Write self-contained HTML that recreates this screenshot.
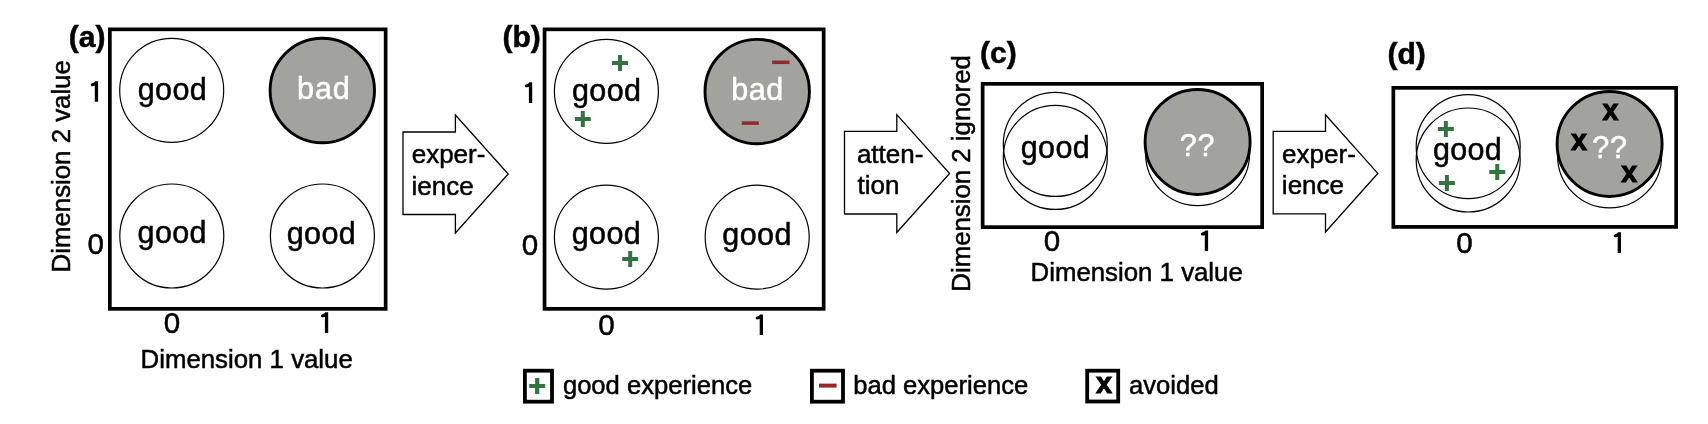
<!DOCTYPE html>
<html><head><meta charset="utf-8"><style>
html,body{margin:0;padding:0;background:#fff;width:1708px;height:424px;overflow:hidden}
svg{display:block;font-family:"Liberation Sans",sans-serif;will-change:transform}
text{stroke-width:0.5px}
</style></head><body>
<svg width="1708" height="424" viewBox="0 0 1708 424">
<rect width="1708" height="424" fill="#fff"/>
<text x="68.71" y="46.60" font-size="30.00" font-weight="bold" fill="#000" stroke="#000">(a)</text>
<rect x="109.85" y="29.35" width="275.80" height="279.50" fill="none" stroke="#000" stroke-width="3.70"/>
<circle cx="171.70" cy="90.40" r="52.00" fill="#fff" stroke="#000" stroke-width="1.20"/>
<circle cx="322.30" cy="90.50" r="52.20" fill="#a3a39e" stroke="#000" stroke-width="2.90"/>
<circle cx="171.80" cy="236.00" r="52.00" fill="#fff" stroke="#000" stroke-width="1.20"/>
<circle cx="322.40" cy="236.00" r="52.00" fill="#fff" stroke="#000" stroke-width="1.20"/>
<text x="137.72" y="100.00" font-size="30.50" fill="#000" stroke="#000" letter-spacing="0.40">good</text>
<text x="297.03" y="99.20" font-size="30.50" fill="#fff" stroke="#fff" letter-spacing="0.90">bad</text>
<text x="137.52" y="243.20" font-size="30.50" fill="#000" stroke="#000" letter-spacing="0.40">good</text>
<text x="286.72" y="244.30" font-size="30.50" fill="#000" stroke="#000" letter-spacing="0.40">good</text>
<path d="M98.10 81.20 L98.10 101.80 L94.80 101.80 L94.80 85.60 C94.00 86.00 93.20 86.20 92.30 86.20 C91.30 86.20 90.80 85.50 90.80 84.70 C90.80 84.00 91.30 83.50 92.10 83.30 C93.50 82.90 94.70 82.20 95.20 81.20 Z" fill="#000"/>
<text x="87.44" y="254.11" font-size="29.60" fill="#000" stroke="#000">0</text>
<text x="163.84" y="332.81" font-size="29.60" fill="#000" stroke="#000">0</text>
<path d="M328.20 312.30 L328.20 332.90 L324.90 332.90 L324.90 316.70 C324.10 317.10 323.30 317.30 322.40 317.30 C321.40 317.30 320.90 316.60 320.90 315.80 C320.90 315.10 321.40 314.60 322.20 314.40 C323.60 314.00 324.80 313.30 325.30 312.30 Z" fill="#000"/>
<text x="140.58" y="367.70" font-size="25.80" fill="#000" stroke="#000">Dimension 1 value</text>
<text transform="translate(70.30 270.30) rotate(-90)" x="-2.12" y="0" font-size="25.80" fill="#000" stroke="#000">Dimension 2 value</text>
<path d="M403.00 132.00H455.40V115.00L508.20 174.00L455.40 233.00V214.50H403.00Z" fill="#fff" stroke="#000" stroke-width="1.3" stroke-linejoin="miter"/>
<text x="411.70" y="162.90" font-size="26.00" fill="#000" stroke="#000">exper-</text>
<text x="411.56" y="195.00" font-size="26.00" fill="#000" stroke="#000">ience</text>
<text x="502.51" y="46.50" font-size="30.00" font-weight="bold" fill="#000" stroke="#000">(b)</text>
<rect x="544.55" y="29.35" width="279.10" height="279.50" fill="none" stroke="#000" stroke-width="3.70"/>
<circle cx="606.40" cy="91.40" r="52.00" fill="#fff" stroke="#000" stroke-width="1.20"/>
<circle cx="757.20" cy="91.55" r="52.20" fill="#a3a39e" stroke="#000" stroke-width="2.90"/>
<circle cx="606.40" cy="237.15" r="52.00" fill="#fff" stroke="#000" stroke-width="1.20"/>
<circle cx="757.20" cy="237.15" r="52.00" fill="#fff" stroke="#000" stroke-width="1.20"/>
<text x="571.92" y="100.60" font-size="30.50" fill="#000" stroke="#000" letter-spacing="0.40">good</text>
<path d="M612.00 61.00h16.00v4.00h-16.00z M618.00 55.00h4.00v16.00h-4.00z" fill="#33733f"/>
<path d="M574.80 117.00h16.00v4.00h-16.00z M580.80 111.00h4.00v16.00h-4.00z" fill="#33733f"/>
<path d="M622.20 257.00h16.00v4.00h-16.00z M628.20 251.00h4.00v16.00h-4.00z" fill="#33733f"/>
<text x="731.23" y="100.00" font-size="30.50" fill="#fff" stroke="#fff" letter-spacing="0.60">bad</text>
<rect x="772.10" y="60.55" width="17.40" height="3.50" fill="#932a2a"/>
<rect x="741.80" y="121.35" width="17.00" height="3.50" fill="#932a2a"/>
<text x="571.72" y="243.80" font-size="30.50" fill="#000" stroke="#000" letter-spacing="0.40">good</text>
<text x="722.32" y="245.20" font-size="30.50" fill="#000" stroke="#000" letter-spacing="0.40">good</text>
<path d="M532.20 82.30 L532.20 102.90 L528.90 102.90 L528.90 86.70 C528.10 87.10 527.30 87.30 526.40 87.30 C525.40 87.30 524.90 86.60 524.90 85.80 C524.90 85.10 525.40 84.60 526.20 84.40 C527.60 84.00 528.80 83.30 529.30 82.30 Z" fill="#000"/>
<text x="521.84" y="254.81" font-size="29.60" fill="#000" stroke="#000">0</text>
<text x="598.14" y="335.11" font-size="29.60" fill="#000" stroke="#000">0</text>
<path d="M763.00 314.40 L763.00 335.00 L759.70 335.00 L759.70 318.80 C758.90 319.20 758.10 319.40 757.20 319.40 C756.20 319.40 755.70 318.70 755.70 317.90 C755.70 317.20 756.20 316.70 757.00 316.50 C758.40 316.10 759.60 315.40 760.10 314.40 Z" fill="#000"/>
<path d="M844.50 131.30H896.80V114.60L949.60 173.55L896.80 232.50V214.00H844.50Z" fill="#fff" stroke="#000" stroke-width="1.3" stroke-linejoin="miter"/>
<text x="856.90" y="163.00" font-size="26.00" fill="#000" stroke="#000">atten-</text>
<text x="857.61" y="194.20" font-size="26.00" fill="#000" stroke="#000">tion</text>
<text x="980.01" y="62.50" font-size="30.00" font-weight="bold" fill="#000" stroke="#000">(c)</text>
<rect x="982.65" y="83.85" width="279.50" height="143.30" fill="none" stroke="#000" stroke-width="3.70"/>
<circle cx="1055.30" cy="157.45" r="52.00" fill="#fff" stroke="#000" stroke-width="1.20"/>
<circle cx="1055.30" cy="144.45" r="52.00" fill="none" stroke="#000" stroke-width="1.20"/>
<circle cx="1197.60" cy="153.60" r="52.00" fill="#fff" stroke="#000" stroke-width="1.20"/>
<circle cx="1197.60" cy="141.95" r="52.50" fill="#a3a39e" stroke="#000" stroke-width="2.90"/>
<text x="1020.72" y="158.00" font-size="30.50" fill="#000" stroke="#000" letter-spacing="0.40">good</text>
<text x="1179.75" y="156.00" font-size="30.50" fill="#fff" stroke="#fff" letter-spacing="0.80">??</text>
<text x="1043.84" y="250.81" font-size="29.60" fill="#000" stroke="#000">0</text>
<path d="M1208.10 230.50 L1208.10 251.10 L1204.80 251.10 L1204.80 234.90 C1204.00 235.30 1203.20 235.50 1202.30 235.50 C1201.30 235.50 1200.80 234.80 1200.80 234.00 C1200.80 233.30 1201.30 232.80 1202.10 232.60 C1203.50 232.20 1204.70 231.50 1205.20 230.50 Z" fill="#000"/>
<text x="1030.58" y="280.90" font-size="25.80" fill="#000" stroke="#000">Dimension 1 value</text>
<text transform="translate(970.20 289.60) rotate(-90)" x="-2.12" y="0" font-size="25.80" fill="#000" stroke="#000">Dimension 2 ignored</text>
<path d="M1273.20 131.30H1325.50V114.80L1377.80 173.40L1325.50 232.00V213.80H1273.20Z" fill="#fff" stroke="#000" stroke-width="1.3" stroke-linejoin="miter"/>
<text x="1282.10" y="162.90" font-size="26.00" fill="#000" stroke="#000">exper-</text>
<text x="1281.86" y="194.40" font-size="26.00" fill="#000" stroke="#000">ience</text>
<text x="1387.51" y="63.50" font-size="30.00" font-weight="bold" fill="#000" stroke="#000">(d)</text>
<rect x="1393.35" y="87.85" width="282.80" height="139.05" fill="none" stroke="#000" stroke-width="3.70"/>
<circle cx="1468.20" cy="160.00" r="52.00" fill="#fff" stroke="#000" stroke-width="1.20"/>
<circle cx="1468.20" cy="146.55" r="52.00" fill="none" stroke="#000" stroke-width="1.20"/>
<circle cx="1609.60" cy="155.90" r="52.00" fill="#fff" stroke="#000" stroke-width="1.20"/>
<circle cx="1609.60" cy="143.95" r="52.50" fill="#a3a39e" stroke="#000" stroke-width="2.90"/>
<path d="M1437.85 127.00h16.00v4.00h-16.00z M1443.85 121.00h4.00v16.00h-4.00z" fill="#33733f"/>
<path d="M1438.90 181.00h16.00v4.00h-16.00z M1444.90 175.00h4.00v16.00h-4.00z" fill="#33733f"/>
<path d="M1489.25 170.00h16.00v4.00h-16.00z M1495.25 164.00h4.00v16.00h-4.00z" fill="#33733f"/>
<text x="1433.02" y="159.60" font-size="30.50" fill="#000" stroke="#000" letter-spacing="0.30">good</text>
<text x="1602.50" y="120.21" font-size="28.80" font-weight="bold" stroke="#000" style="stroke-width:1px">x</text>
<text x="1571.00" y="150.36" font-size="28.80" font-weight="bold" stroke="#000" style="stroke-width:1px">x</text>
<text x="1621.30" y="182.41" font-size="28.80" font-weight="bold" stroke="#000" style="stroke-width:1px">x</text>
<text x="1592.25" y="157.80" font-size="30.50" fill="#fff" stroke="#fff" letter-spacing="0.80">??</text>
<text x="1456.14" y="252.81" font-size="29.60" fill="#000" stroke="#000">0</text>
<path d="M1621.00 232.30 L1621.00 252.90 L1617.70 252.90 L1617.70 236.70 C1616.90 237.10 1616.10 237.30 1615.20 237.30 C1614.20 237.30 1613.70 236.60 1613.70 235.80 C1613.70 235.10 1614.20 234.60 1615.00 234.40 C1616.40 234.00 1617.60 233.30 1618.10 232.30 Z" fill="#000"/>
<rect x="524.90" y="370.70" width="27.10" height="31.00" fill="none" stroke="#000" stroke-width="3.80"/>
<path d="M529.20 383.90h16.00v4.20h-16.00z M535.10 378.00h4.20v16.00h-4.20z" fill="#33733f"/>
<text x="562.92" y="393.70" font-size="25.60" fill="#000" stroke="#000">good experience</text>
<rect x="811.90" y="370.70" width="31.10" height="31.00" fill="none" stroke="#000" stroke-width="3.80"/>
<rect x="819.00" y="383.60" width="17.60" height="4.00" fill="#932a2a"/>
<text x="853.25" y="393.70" font-size="25.60" fill="#000" stroke="#000">bad experience</text>
<rect x="1087.20" y="370.70" width="31.00" height="30.80" fill="none" stroke="#000" stroke-width="3.80"/>
<text x="1096.00" y="393.41" font-size="28.80" font-weight="bold" stroke="#000" style="stroke-width:1px">x</text>
<text x="1129.01" y="394.00" font-size="25.60" fill="#000" stroke="#000">avoided</text>
</svg></body></html>
